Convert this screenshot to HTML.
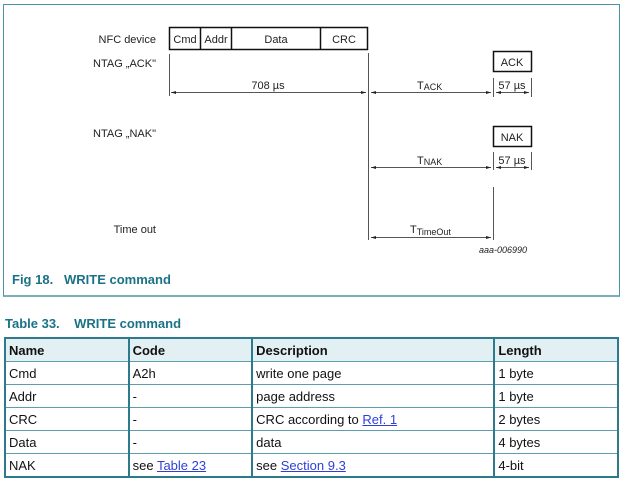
<!DOCTYPE html>
<html><head><meta charset="utf-8"><style>
body{margin:0;width:624px;height:482px;background:#fff;position:relative;font-family:"Liberation Sans",Arial,sans-serif;overflow:hidden}
.fig{position:absolute;left:3px;top:4px;width:615px;height:290px;border:1px solid #4a94a4;border-bottom:2px solid #7ab0bc}
.cap{position:absolute;left:12px;top:272px;font-size:13px;font-weight:bold;color:#1a7287}
.tt{position:absolute;left:5px;top:316px;font-size:13px;font-weight:bold;color:#1a7287}
table{position:absolute;left:4px;top:337px;width:615px;border-collapse:collapse;font-size:13px;color:#111}
td{border-top:1px solid #5d9eae;border-bottom:1px solid #5d9eae;border-left:2px solid #2d7a8c;border-right:2px solid #2d7a8c;height:22px;padding:0 0 0 3px;line-height:21px}
tr.h td{background:#e2f0f3;font-weight:bold;border-top:2px solid #2d7a8c}
tr:last-child td{border-bottom:2px solid #2d7a8c}
a{color:#2e3fd8;text-decoration:underline}
</style></head><body>
<div class="fig"></div>
<svg width="624" height="300" style="position:absolute;left:0;top:0" font-family="Liberation Sans, Arial, sans-serif" font-size="11" fill="#222">
<defs><marker id="a" viewBox="0 0 10 10" refX="10" refY="5" markerWidth="7" markerHeight="5" orient="auto-start-reverse"><path d="M0,2 L10,5 L0,8z" fill="#222"/></marker></defs>
<g stroke="#111" fill="none">
<rect x="169.5" y="27.5" width="198" height="22" stroke-width="1.5"/>
<line x1="200.5" y1="27" x2="200.5" y2="50" stroke-width="1.5"/>
<line x1="231.5" y1="27" x2="231.5" y2="50" stroke-width="1.5"/>
<line x1="320.5" y1="27" x2="320.5" y2="50" stroke-width="1.5"/>
<rect x="493.5" y="51.5" width="38" height="20" stroke-width="1.5"/>
<rect x="493.5" y="126.5" width="38" height="20" stroke-width="1.5"/>
</g>
<g stroke="#555" stroke-width="1">
<line x1="368.5" y1="53" x2="368.5" y2="240"/>
<line x1="169.5" y1="54" x2="169.5" y2="96"/>
<line x1="493.5" y1="78" x2="493.5" y2="97"/>
<line x1="531.5" y1="78" x2="531.5" y2="97"/>
<line x1="493.5" y1="152" x2="493.5" y2="170"/>
<line x1="531.5" y1="152" x2="531.5" y2="170"/>
<line x1="493.5" y1="187" x2="493.5" y2="240"/>
<g marker-start="url(#a)" marker-end="url(#a)">
<line x1="171" y1="92.5" x2="366" y2="92.5"/>
<line x1="371" y1="92.5" x2="491" y2="92.5"/>
<line x1="496" y1="92.5" x2="529" y2="92.5"/>
<line x1="371" y1="167.5" x2="491" y2="167.5"/>
<line x1="496" y1="167.5" x2="529" y2="167.5"/>
<line x1="371" y1="237.5" x2="491" y2="237.5"/>
</g></g>
<text x="156" y="43" text-anchor="end">NFC device</text>
<text x="156" y="67" text-anchor="end">NTAG „ACK"</text>
<text x="156" y="137" text-anchor="end">NTAG „NAK"</text>
<text x="156" y="233" text-anchor="end">Time out</text>
<text x="185" y="43" text-anchor="middle">Cmd</text>
<text x="216" y="43" text-anchor="middle">Addr</text>
<text x="276" y="43" text-anchor="middle">Data</text>
<text x="344" y="43" text-anchor="middle">CRC</text>
<text x="512" y="66" text-anchor="middle">ACK</text>
<text x="512" y="141" text-anchor="middle">NAK</text>
<text x="268" y="89" text-anchor="middle">708 µs</text>
<text x="512" y="89" text-anchor="middle">57 µs</text>
<text x="512" y="164" text-anchor="middle">57 µs</text>
<text x="417" y="89">T<tspan font-size="9" dy="1">ACK</tspan></text>
<text x="417" y="164">T<tspan font-size="9" dy="1">NAK</tspan></text>
<text x="410" y="233">T<tspan font-size="9" dy="2">TimeOut</tspan></text>
<text x="479" y="253" font-size="9" font-style="italic">aaa-006990</text>
</svg>
<div class="cap">Fig 18.&nbsp;&nbsp;&nbsp;WRITE command</div>
<div class="tt">Table 33.&nbsp;&nbsp;&nbsp;&nbsp;WRITE command</div>
<table>
<colgroup><col style="width:124px"><col style="width:124px"><col style="width:243px"><col style="width:124px"></colgroup>
<tr class="h"><td>Name</td><td>Code</td><td>Description</td><td>Length</td></tr>
<tr><td>Cmd</td><td>A2h</td><td>write one page</td><td>1 byte</td></tr>
<tr><td>Addr</td><td>-</td><td>page address</td><td>1 byte</td></tr>
<tr><td>CRC</td><td>-</td><td>CRC according to <a>Ref. 1</a></td><td>2 bytes</td></tr>
<tr><td>Data</td><td>-</td><td>data</td><td>4 bytes</td></tr>
<tr><td>NAK</td><td>see <a>Table 23</a></td><td>see <a>Section 9.3</a></td><td>4-bit</td></tr>
</table>
</body></html>
